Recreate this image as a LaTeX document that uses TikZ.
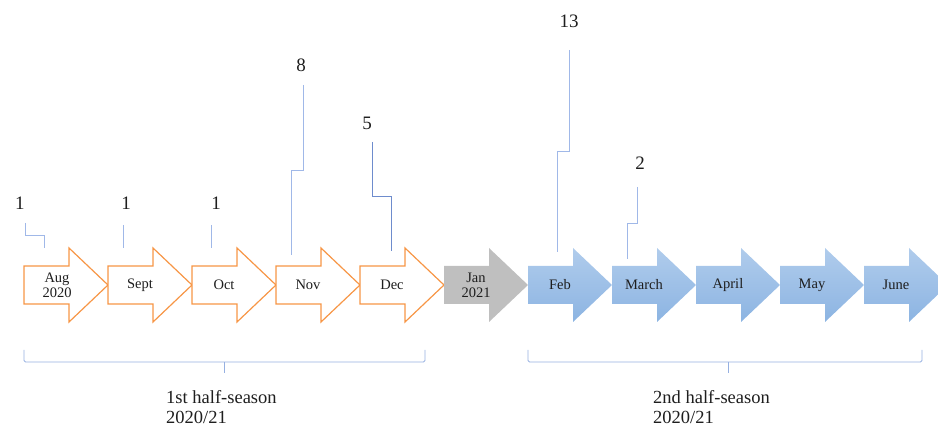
\documentclass[tikz,border=0pt]{standalone}
\usepackage{fontspec}
\setmainfont{Liberation Serif}
\definecolor{orangeline}{RGB}{247,150,70}
\definecolor{leadblue}{RGB}{160,184,232}
\definecolor{leaddark}{RGB}{110,140,205}
\definecolor{bluetop}{RGB}{176,204,236}
\definecolor{bluebot}{RGB}{140,180,226}
\definecolor{grayfill}{RGB}{191,191,191}
\definecolor{bracecol}{RGB}{150,176,225}
\definecolor{txt}{RGB}{30,30,30}
\tikzset{
  orangearrow/.style={draw=orangeline, line width=1.2pt, fill=white, line join=miter},
  grayarrow/.style={fill=grayfill},
  bluearrow/.style={top color=bluetop, bottom color=bluebot, draw=none},
  monthlabel/.style={font=\fontsize{14.5}{15}\selectfont, text=txt, align=center, inner sep=0pt},
  countlabel/.style={font=\fontsize{19}{20}\selectfont, text=txt, inner sep=0pt},
  seasonlabel/.style={font=\fontsize{18.5}{20.5}\selectfont, text=txt, align=left, inner sep=0pt, anchor=west},
  lead/.style={draw=leadblue, line width=0.8pt},
  leaddk/.style={draw=leaddark, line width=0.9pt},
  bracket/.style={draw=bracecol, line width=0.8pt, rounded corners=1.5pt},
}
\newcommand\arrowpath[1]{(#1,266) -- ({#1+45},266) -- ({#1+45},248) -- ({#1+84},285) -- ({#1+45},322) -- ({#1+45},304) -- (#1,304) -- cycle}
\begin{document}
\begin{tikzpicture}[x=1pt,y=-1pt]
\useasboundingbox (0,0) rectangle (938,430);
\clip (0,0) rectangle (938,430);
% month arrows
\foreach \x in {24,108,192,276,360} { \path[orangearrow] \arrowpath{\x}; }
\path[grayarrow] \arrowpath{444};
\foreach \x in {528,612,696,780,864} { \path[bluearrow] \arrowpath{\x}; }
% month labels
\node[monthlabel] (aug) at (57,285) {Aug\\2020};
\node[monthlabel] (sep) at (140,285) {Sept};
\node[monthlabel] (oct) at (224,285) {Oct};
\node[monthlabel] (nov) at (308,285) {Nov};
\node[monthlabel] (dec) at (392,285) {Dec};
\node[monthlabel] (jan) at (476,285) {Jan\\2021};
\node[monthlabel] (feb) at (560,285) {Feb};
\node[monthlabel] (mar) at (644,285) {March};
\node[monthlabel] (apr) at (728,285) {April};
\node[monthlabel] (may) at (812,285) {May};
\node[monthlabel] (jun) at (896,285) {June};
% counts
\node[countlabel] (c1) at (20,203) {1};
\node[countlabel] (c2) at (126,203) {1};
\node[countlabel] (c3) at (216,203) {1};
\node[countlabel] (c4) at (301,65) {8};
\node[countlabel] (c5) at (367,123) {5};
\node[countlabel] (c6) at (569,21) {13};
\node[countlabel] (c7) at (640,163) {2};
% leader line end points
\coordinate (s1) at (25,223);   \coordinate (e1) at (44,248);
\coordinate (s2) at (123,225);  \coordinate (e2) at (123,248);
\coordinate (s3) at (211,225);  \coordinate (e3) at (211,248);
\coordinate (s4) at (303,85);   \coordinate (e4) at (291,255);
\coordinate (s5) at (372,142);  \coordinate (e5) at (391,251);
\coordinate (s6) at (569,50);   \coordinate (e6) at (557,252);
\coordinate (s7) at (637,187);  \coordinate (e7) at (627,259);
\draw[lead] (s1) -- (25,235) -| (e1);
\draw[lead] (s2) -- (e2);
\draw[lead] (s3) -- (e3);
\draw[lead] (s4) -- (303,170) -| (e4);
\draw[leaddk] (s5) -- (372,196) -| (e5);
\draw[lead] (s6) -- (569,151) -| (e6);
\draw[lead] (s7) -- (637,223) -| (e7);
% brackets
\coordinate (b1l) at (24,350); \coordinate (b1r) at (425,350); \coordinate (b1m) at (224,373);
\coordinate (b2l) at (528,350); \coordinate (b2r) at (922,350); \coordinate (b2m) at (728,373);
\draw[bracket] (b1l) |- (224,362) -| (b1r);
\draw[bracecol, line width=0.8pt] (224,362) -- (b1m);
\draw[bracket] (b2l) |- (728,362) -| (b2r);
\draw[bracecol, line width=0.8pt] (728,362) -- (b2m);
% season labels
\node[seasonlabel] (h1) at (166,407) {1st half-season\\2020/21};
\node[seasonlabel] (h2) at (653,407) {2nd half-season\\2020/21};
\end{tikzpicture}
\end{document}
